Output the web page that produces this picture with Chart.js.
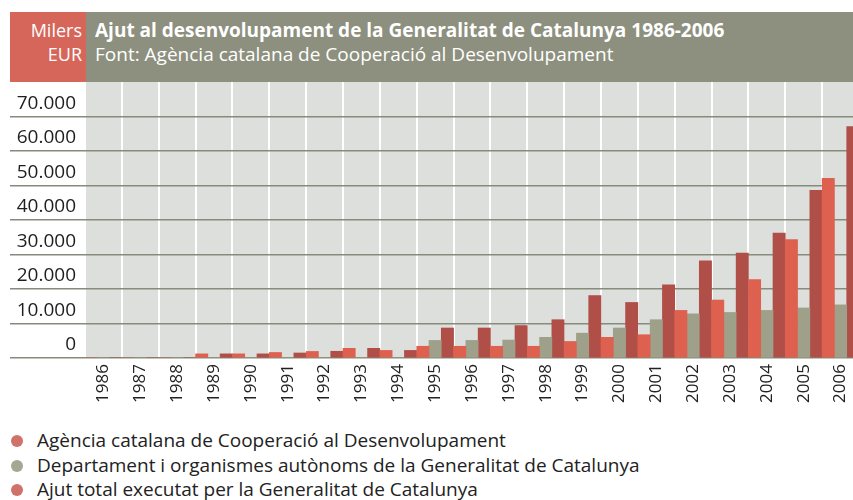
<!DOCTYPE html>
<html>
<head>
<meta charset="utf-8">
<script src="https://cdn.jsdelivr.net/npm/chart.js@4"></script>
<style>
  html, body { margin: 0; padding: 0; background: #ffffff; width: 853px; height: 500px; overflow: hidden; position: relative; font-family: "Open Sans", sans-serif; }
  #c { position: absolute; left: 0; top: 0; }
  #unit { position: absolute; left: 10px; top: 12px; width: 76px; height: 70px; background: #d6665a; color: #fff; font-size: 18px; line-height: 24px; text-align: right; box-sizing: border-box; padding: 6px 4px 0 0; }
  #titlebar { position: absolute; left: 86px; top: 12px; width: 767px; height: 70px; background: #8d907e; color: #fff; box-sizing: border-box; padding: 6px 0 0 9px; line-height: 24px; white-space: nowrap; }
  #titlebar .t { font-weight: bold; font-size: 19px; }
  #titlebar .s { font-size: 19px; }
  #legend { position: absolute; left: 0; top: 428px; font-size: 19px; color: #222; }
  #legend .row { position: relative; height: 24.5px; line-height: 24px; padding-left: 37px; white-space: nowrap; }
  #legend .dot { position: absolute; left: 11px; top: 7px; width: 12px; height: 12px; border-radius: 50%; }
</style>
</head>
<body>
<canvas id="c" width="870" height="420"></canvas>
<div id="unit"></div>
<div id="titlebar"><div class="t"></div><div class="s"></div></div>
<div id="legend"></div>
<script>
// ---- data (thousands of EUR = "Milers EUR") ----
const unitLines = ["Milers", "EUR"];
const chartTitle = "Ajut al desenvolupament de la Generalitat de Catalunya 1986-2006";
const chartSource = "Font: Agència catalana de Cooperació al Desenvolupament";
const years = ["1986","1987","1988","1989","1990","1991","1992","1993","1994","1995","1996","1997","1998","1999","2000","2001","2002","2003","2004","2005","2006"];
const seriesNames = [
  "Agència catalana de Cooperació al Desenvolupament",
  "Departament i organismes autònoms de la Generalitat de Catalunya",
  "Ajut total executat per la Generalitat de Catalunya"
];
const agencia     = [0, 0, 0, 1200, 1200, 1600, 1900, 2800, 2200, 3400, 3400, 3400, 3400, 4800, 6000, 6750, 13800, 16800, 22700, 34300, 52100];
const departament = [0, 0, 0, 0, 0, 0, 0, 0, 0, 5100, 5100, 5200, 6000, 7200, 8700, 11100, 12800, 13200, 13800, 14500, 15400];
const total       = [0, 0, 0, 1200, 1200, 1450, 1950, 2800, 2200, 8700, 8700, 9400, 11100, 18100, 16100, 21200, 28200, 30400, 36200, 48600, 67100];
const yTicks = [0, 10000, 20000, 30000, 40000, 50000, 60000, 70000];
const yTickLabels = ["0", "10.000", "20.000", "30.000", "40.000", "50.000", "60.000", "70.000"];

// ---- header & legend ----
document.getElementById('unit').innerHTML = unitLines.join('<br>');
document.querySelector('#titlebar .t').textContent = chartTitle;
document.querySelector('#titlebar .s').textContent = chartSource;
const legendDotColors = ['#cf736a', '#a5a792', '#cf736a'];
const lg = document.getElementById('legend');
seriesNames.forEach((n, i) => {
  const r = document.createElement('div'); r.className = 'row';
  const d = document.createElement('span'); d.className = 'dot'; d.style.background = legendDotColors[i];
  r.appendChild(d); r.appendChild(document.createTextNode(n)); lg.appendChild(r);
});

// ---- chart ----
const bgPlugin = {
  id: 'bg',
  beforeDraw(chart) {
    const a = chart.chartArea, ctx = chart.ctx;
    ctx.save(); ctx.fillStyle = '#dcdfdb';
    ctx.fillRect(a.left, a.top, a.right - a.left, a.bottom - a.top);
    ctx.restore();
  }
};

new Chart(document.getElementById('c'), {
  type: 'bar',
  data: {
    labels: years,
    datasets: [
      { label: seriesNames[0], data: agencia, backgroundColor: '#de6150' },
      { label: seriesNames[1], data: departament, backgroundColor: '#9ea08a' },
      { label: seriesNames[2], data: total, backgroundColor: '#b04f48' }
    ]
  },
  options: {
    responsive: false,
    animation: false,
    devicePixelRatio: 1,
    layout: { padding: { top: 82, left: 0, right: 11, bottom: 0 } },
    datasets: { bar: { categoryPercentage: 1, barPercentage: 1, borderWidth: 0 } },
    plugins: { legend: { display: false }, tooltip: { enabled: false } },
    scales: {
      x: {
        offset: true,
        grid: { color: '#ffffff', lineWidth: 2, drawTicks: false, offset: true, z: -2 },
        border: { display: false },
        ticks: { autoSkip: false, minRotation: 90, maxRotation: 90, padding: 6, color: '#222', font: { family: 'Open Sans', size: 17 } },
        afterFit(s) { s.height = 62; }
      },
      y: {
        min: 0, max: 80000,
        grid: {
          z: -1,
          lineWidth: 1.5,
          drawTicks: true, tickLength: 75,
          color: (ctx) => (ctx.tick && ctx.tick.value > 70000) ? 'rgba(0,0,0,0)' : '#868b7b'
        },
        border: { display: false },
        afterBuildTicks(s) { s.ticks = yTicks.concat([80000]).map(v => ({ value: v })); },
        ticks: {
          padding: -66,
          labelOffset: -13,
          color: '#1e1e1e',
          font: { family: 'Open Sans', size: 19 },
          callback: (v) => { const i = yTicks.indexOf(v); return i >= 0 ? yTickLabels[i] : ''; }
        },
        afterFit(s) { s.width = 85; }
      }
    }
  },
  plugins: [bgPlugin]
});
</script>
</body>
</html>
